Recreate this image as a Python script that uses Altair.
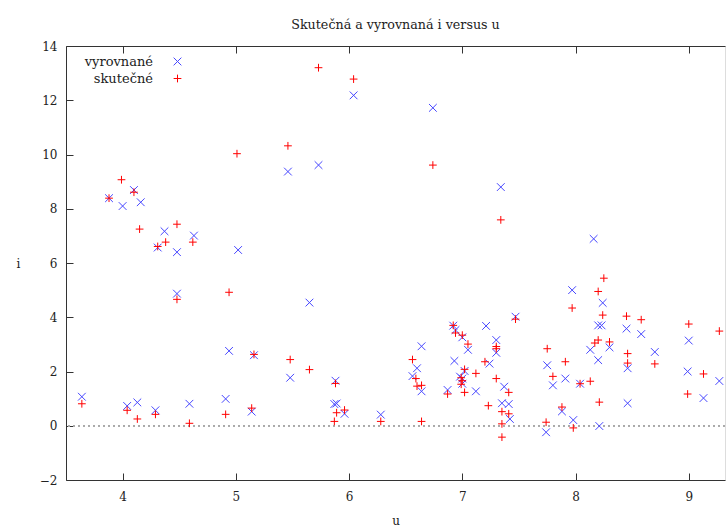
import altair as alt
import pandas as pd

# ---- data ----
series_names = ["vyrovnané", "skutečné"]

blue_u = [3.88, 4.00, 4.10, 4.16, 4.37, 4.63, 5.46, 4.31, 4.48, 5.02,
          4.48, 4.94, 5.16, 5.48, 3.64, 4.04, 4.13, 4.29, 4.59, 4.91,
          5.14, 6.04, 6.74, 5.73, 7.34, 5.65, 5.88, 5.87, 5.89, 5.96,
          6.28, 6.64, 6.60, 6.56, 6.64, 6.87, 6.92, 6.94, 7.00, 7.05,
          6.93, 7.02, 6.98, 7.00, 7.00, 7.12, 7.21, 7.30, 7.30, 7.24,
          7.37, 7.35, 7.41, 7.42, 7.47, 8.16, 7.97, 8.24, 8.20, 8.23,
          8.45, 8.58, 9.00, 8.30, 8.13, 8.20, 8.70, 8.46, 7.75, 7.80,
          7.91, 8.04, 8.46, 8.99, 9.27, 9.13, 7.88, 7.98, 8.21, 7.74]
blue_i = [8.39, 8.10, 8.69, 8.24, 7.17, 7.01, 9.37, 6.57, 6.40, 6.48,
          4.87, 2.76, 2.60, 1.77, 1.07, 0.73, 0.86, 0.57, 0.81, 0.99,
          0.52, 12.18, 11.72, 9.61, 8.80, 4.54, 1.66, 0.80, 0.82, 0.44,
          0.41, 2.93, 2.12, 1.83, 1.27, 1.32, 3.69, 3.53, 3.26, 2.80,
          2.39, 2.02, 1.81, 1.74, 1.55, 1.27, 3.68, 3.16, 2.69, 2.29,
          1.44, 0.83, 0.80, 0.25, 4.02, 6.89, 5.00, 4.53, 3.70, 3.70,
          3.58, 3.38, 3.14, 2.89, 2.80, 2.42, 2.72, 2.12, 2.23, 1.49,
          1.74, 1.55, 0.83, 2.00, 1.65, 1.02, 0.53, 0.21, -0.01, -0.24]

red_u = [3.99, 3.88, 4.10, 4.15, 4.48, 5.01, 5.46, 4.31, 4.38, 4.62,
         4.48, 4.94, 5.16, 5.48, 3.64, 4.04, 4.13, 4.29, 4.59, 4.91,
         5.14, 5.73, 6.04, 6.74, 7.34, 5.65, 5.88, 5.96, 5.89, 5.87,
         6.28, 6.56, 6.59, 6.60, 6.64, 6.64, 6.87, 6.92, 6.94, 7.00,
         7.05, 7.02, 6.99, 7.00, 6.99, 7.02, 7.12, 7.30, 7.30, 7.20,
         7.30, 7.41, 7.23, 7.35, 7.41, 7.35, 7.35, 7.47, 8.25, 8.20,
         7.97, 8.24, 8.45, 8.58, 9.00, 9.27, 8.20, 8.17, 8.30, 7.75,
         8.46, 8.46, 8.70, 7.91, 7.80, 8.04, 8.13, 8.21, 9.13, 8.99,
         7.88, 7.98, 7.74]
red_i = [9.07, 8.39, 8.61, 7.25, 7.43, 10.03, 10.32, 6.61, 6.77, 6.77,
         4.66, 4.92, 2.63, 2.44, 0.81, 0.57, 0.25, 0.42, 0.09, 0.42,
         0.65, 13.20, 12.78, 9.61, 7.59, 2.07, 1.56, 0.58, 0.48, 0.16,
         0.16, 2.44, 1.74, 1.46, 1.49, 0.16, 1.17, 3.70, 3.42, 3.34,
         3.01, 2.08, 1.77, 1.66, 1.53, 1.23, 1.93, 2.92, 2.84, 2.36,
         1.74, 1.23, 0.74, 0.52, 0.44, 0.07, -0.42, 3.93, 5.44, 4.95,
         4.34, 4.08, 4.04, 3.91, 3.75, 3.49, 3.16, 3.05, 3.09, 2.84,
         2.66, 2.31, 2.28, 2.36, 1.82, 1.55, 1.64, 0.87, 1.91, 1.17,
         0.69, -0.08, 0.13]

x_ticks = [4, 5, 6, 7, 8, 9]
y_ticks = [-2, 0, 2, 4, 6, 8, 10, 12, 14]
x_domain = [3.5, 9.32]
y_domain = [-2, 14]

df = pd.concat([
    pd.DataFrame({"u": blue_u, "i": blue_i, "series": series_names[0]}),
    pd.DataFrame({"u": red_u, "i": red_i, "series": series_names[1]}),
], ignore_index=True)

# ---- styling ----
FONT = "DejaVu Serif"
FS = 12
TXT = "#222222"
W, H = 659, 434
AX = "#333333"
X_PATH = "M-1,-1L1,1M-1,1L1,-1"
PLUS_PATH = "M-1,0L1,0M0,-1L0,1"

xs = alt.Scale(domain=x_domain, nice=False, zero=False)
ys = alt.Scale(domain=y_domain, nice=False, zero=False)

base = alt.Chart(df)

legend = alt.Legend(title=None, orient="none", legendX=105, legendY=9,
                    labelAlign="right", labelOffset=alt.ExprRef(expr="-31"),
                    labelFont=FONT, labelFontSize=13, labelColor=TXT,
                    symbolSize=60, symbolStrokeWidth=1, rowPadding=3, padding=0)

points = base.mark_point(filled=False, strokeWidth=1, size=60, opacity=1).encode(
    x=alt.X("u:Q", scale=xs, axis=alt.Axis(
        orient="bottom", values=x_ticks, ticks=False, grid=False, domain=True,
        domainColor=AX, labelPadding=11, labelFont=FONT, labelFontSize=FS,
        labelColor=TXT, title="u", titleFont=FONT, titleFontSize=FS,
        titleFontWeight="normal", titleColor=TXT, titleBaseline="alphabetic",
        titleY=44)),
    y=alt.Y("i:Q", scale=ys, axis=alt.Axis(
        orient="left", values=y_ticks, ticks=False, grid=False, domain=True,
        domainColor=AX, labelPadding=9, labelFont=FONT, labelFontSize=FS,
        labelColor=TXT, title="i", titleAngle=0, titleFont=FONT,
        titleFontSize=FS, titleFontWeight="normal", titleColor=TXT,
        titleAlign="center", titleBaseline="middle", titleX=-48, titleY=H / 2)),
    color=alt.Color("series:N", scale=alt.Scale(domain=series_names,
                                                range=["#4646ff", "#ff0000"]),
                    legend=legend),
    shape=alt.Shape("series:N", scale=alt.Scale(domain=series_names,
                                                range=[X_PATH, PLUS_PATH]),
                    legend=legend),
    order=alt.Order("idx:Q"),
).transform_window(idx="row_number()")

zero_line = base.mark_rule(strokeDash=[2, 3], color="#aaaaaa", strokeWidth=1).encode(
    y=alt.YDatum(0, axis=None)
)

# inward ticks: top border (ticks pointing down) and left border (ticks pointing right)
ticks_a = base.mark_point(opacity=0).encode(
    x=alt.X("u:Q", scale=xs, axis=alt.Axis(
        orient="bottom", offset=-H, values=x_ticks, labels=False, grid=False,
        domain=True, domainColor=AX, tickColor=AX, tickSize=7, title=None)),
    y=alt.Y("i:Q", scale=ys, axis=alt.Axis(
        orient="right", offset=-W, values=y_ticks, labels=False, grid=False,
        domain=False, tickColor=AX, tickSize=7, title=None)),
)
# inward ticks on the bottom border (pointing up)
ticks_b = base.mark_point(opacity=0).encode(
    x=alt.X("u:Q", scale=xs, axis=alt.Axis(
        orient="top", offset=-H, values=x_ticks, labels=False, grid=False,
        domain=False, tickColor=AX, tickSize=7, title=None)),
    y=alt.Y("i:Q", scale=ys, axis=None),
)

chart = alt.layer(zero_line, ticks_a, ticks_b, points).resolve_axis(
    x="independent", y="independent"
).properties(
    width=W, height=H,
    title=alt.TitleParams("Skutečná a vyrovnaná i versus u", font=FONT,
                          fontSize=12.7, fontWeight="normal", color=TXT,
                          offset=8, anchor="middle"),
    autosize=alt.AutoSizeParams(type="none"),
    padding={"left": 66, "top": 46, "right": 1, "bottom": 47},
).configure_view(stroke=None).configure(background="white")

chart.save("out.html", embed_options={"renderer": "svg", "actions": False})
